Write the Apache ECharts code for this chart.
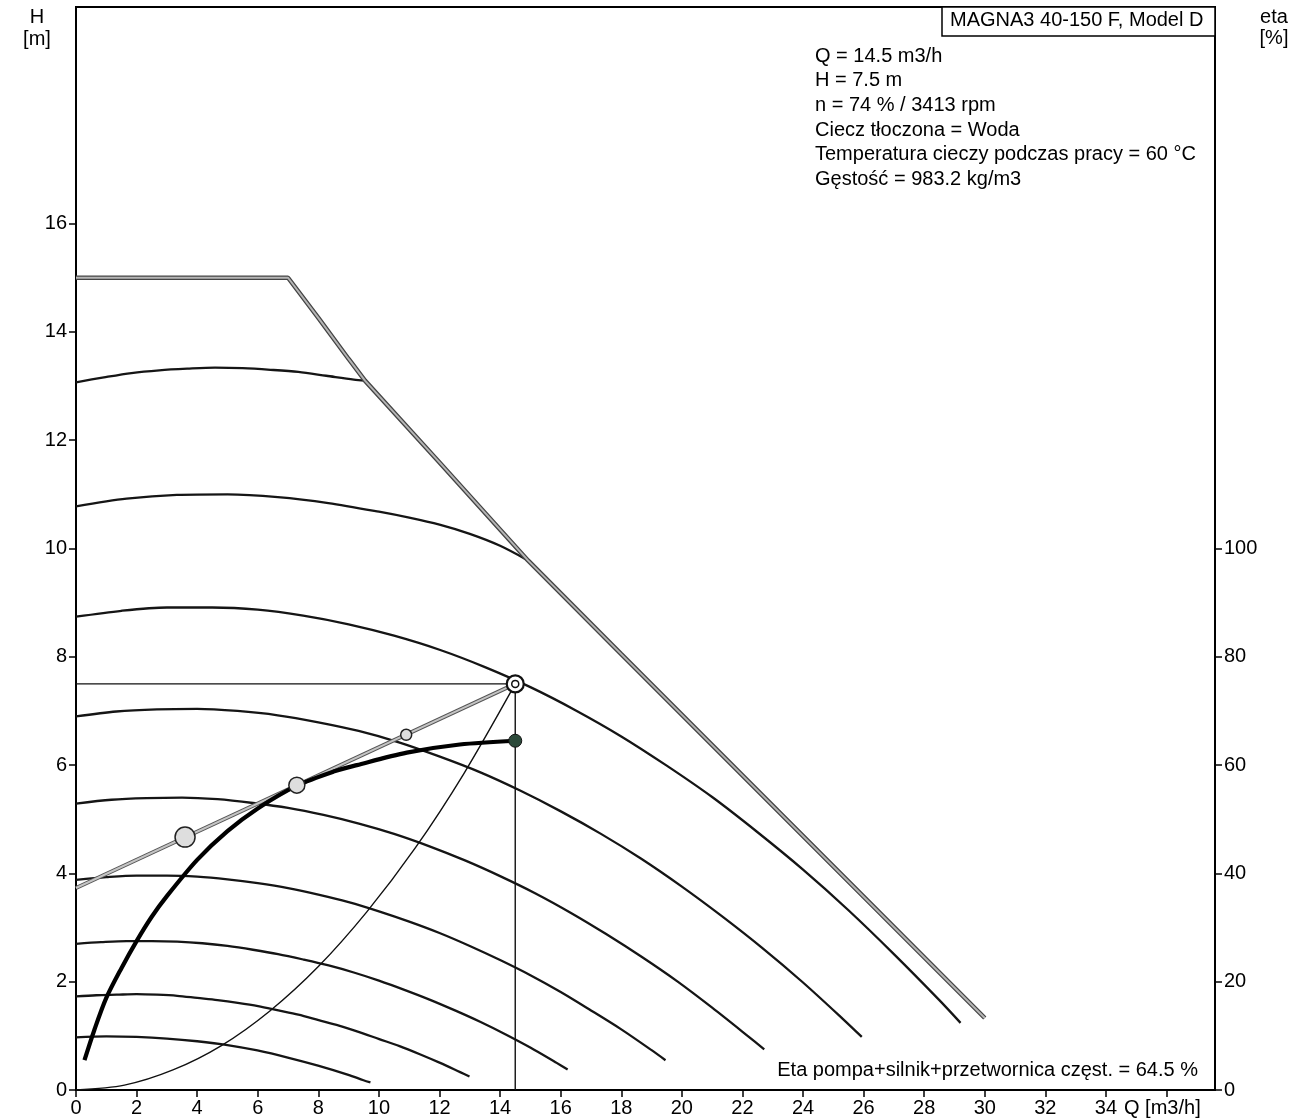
<!DOCTYPE html>
<html>
<head>
<meta charset="utf-8">
<script src="https://cdn.jsdelivr.net/npm/echarts@6/dist/echarts.min.js"></script>
<style>
html, body { margin: 0; padding: 0; background: #fff; }
#chart { width: 1292px; height: 1119px; }
</style>
</head>
<body>
<div id="chart"></div>
<script>
// axis ticks / labels
var qTicks = [0, 2, 4, 6, 8, 10, 12, 14, 16, 18, 20, 22, 24, 26, 28, 30, 32, 34, 36];
var qLabels = [0, 2, 4, 6, 8, 10, 12, 14, 16, 18, 20, 22, 24, 26, 28, 30, 32, 34];
var hLabels = [0, 2, 4, 6, 8, 10, 12, 14, 16];
var etaLabels = [0, 20, 40, 60, 80, 100];

// max curve [Q, H]
var maxCurve = [[0, 15.0], [7.0, 15.0], [8, 14.26], [9, 13.5], [9.54, 13.1], [12, 11.59], [14.92, 9.78],
    [18, 8.05], [22, 5.81], [26, 3.57], [30, 1.33]];

// speed curves [Q, H]
var speed1 = [[0, 13.07], [0.92, 13.16], [1.83, 13.24], [2.75, 13.29], [3.67, 13.32], [4.59, 13.34], [5.5, 13.33],
    [6.42, 13.3], [7.34, 13.26], [8.26, 13.19], [9.17, 13.12], [9.54, 13.1]];
var speed2 = [[0, 10.78], [1.67, 10.92], [3.33, 10.99], [5.0, 11.0], [6.66, 10.95], [8.33, 10.84], [10.0, 10.68],
    [11.0, 10.57], [12.0, 10.44], [13.0, 10.27], [14.0, 10.05], [14.92, 9.78]];
var speed3 = [[0, 8.74], [1.5, 8.85], [3, 8.91], [4.5, 8.91], [6, 8.87], [7.5, 8.76], [9, 8.60], [10.5, 8.39],
    [12, 8.13], [13.5, 7.81], [15, 7.44], [16.5, 7.01], [18, 6.53], [19.5, 5.99], [21, 5.41], [22.5, 4.76],
    [24, 4.07], [25.5, 3.32], [27, 2.51], [28.5, 1.66], [29.2, 1.24]];
var speed4 = [[0, 6.90], [1.33, 6.99], [2.67, 7.03], [4.0, 7.04], [5.33, 7.0], [6.66, 6.92], [8.0, 6.79], [9.33, 6.63],
    [10.66, 6.42], [11.99, 6.16], [13.33, 5.87], [14.66, 5.53], [15.99, 5.15], [17.33, 4.73], [18.66, 4.27],
    [19.99, 3.76], [21.32, 3.21], [22.66, 2.62], [23.99, 1.99], [25.32, 1.31], [25.94, 0.98]];
var speed5 = [[0, 5.29], [1.17, 5.36], [2.33, 5.39], [3.5, 5.4], [4.67, 5.37], [5.84, 5.3], [7.0, 5.21], [8.17, 5.08],
    [9.34, 4.92], [10.5, 4.73], [11.67, 4.5], [12.84, 4.24], [14.0, 3.95], [15.17, 3.63], [16.34, 3.27],
    [17.5, 2.88], [18.67, 2.46], [19.84, 2.01], [21.0, 1.52], [22.17, 1.0], [22.72, 0.75]];
var speed6 = [[0, 3.88], [1.0, 3.93], [2.0, 3.96], [3.0, 3.96], [4.0, 3.94], [5.0, 3.89], [6.0, 3.82], [7.0, 3.73],
    [8.0, 3.61], [9.0, 3.47], [10.0, 3.3], [11.0, 3.11], [12.0, 2.9], [13.0, 2.66], [14.0, 2.4], [15.0, 2.12],
    [16.0, 1.81], [17.0, 1.47], [18.0, 1.12], [18.99, 0.74], [19.46, 0.55]];
var speed7 = [[0, 2.70], [0.83, 2.73], [1.67, 2.75], [2.5, 2.75], [3.34, 2.74], [4.17, 2.71], [5.0, 2.66], [5.84, 2.59],
    [6.67, 2.51], [7.5, 2.41], [8.34, 2.3], [9.17, 2.17], [10.0, 2.02], [10.84, 1.85], [11.67, 1.67],
    [12.51, 1.47], [13.34, 1.26], [14.17, 1.03], [15.01, 0.78], [15.84, 0.51], [16.23, 0.38]];
var speed8 = [[0, 1.73], [0.67, 1.75], [1.34, 1.76], [2.0, 1.77], [2.67, 1.76], [3.34, 1.74], [4.0, 1.7], [4.67, 1.66],
    [5.34, 1.61], [6.01, 1.55], [6.68, 1.47], [7.34, 1.39], [8.01, 1.29], [8.68, 1.19], [9.35, 1.07],
    [10.01, 0.94], [10.68, 0.81], [11.35, 0.66], [12.02, 0.5], [12.68, 0.33], [12.99, 0.25]];
var speed9 = [[0, 0.97], [1.0, 0.99], [2.0, 0.98], [3.0, 0.95], [4.0, 0.90], [5.0, 0.83], [5.99, 0.73], [6.99, 0.6],
    [7.99, 0.45], [8.99, 0.28], [9.49, 0.18], [9.72, 0.14]];

// system curve [Q, H]
var systemCurve = [[0, 0], [1.6, 0.09], [3.2, 0.37], [4.8, 0.82], [6.4, 1.46], [8, 2.28], [9.6, 3.29], [11.2, 4.47], [12.8, 5.84], [14.5, 7.5]];

// efficiency curve [Q, eta %]
var etaCurve = [[0.28, 5.5], [0.6, 11], [1.0, 17], [1.5, 22.5], [2.0, 27.5], [2.5, 32], [3.0, 35.8], [4.0, 42.5],
    [5.0, 47.8], [6.0, 52], [7.29, 56.2], [8.5, 58.8], [9.27, 60.0], [10.92, 62.3], [12.67, 63.8], [14.5, 64.5]];

// gray line and its markers [Q, H]
var grayLine = [[0, 3.73], [14.5, 7.5]];
var grayMarkers = [[3.6, 4.67], [7.29, 5.63], [10.9, 6.56]];
var dutyPoint = [[14.5, 7.5]];
var etaPoint = [[14.5, 64.5]];

var FONT = '"Liberation Sans", Arial, sans-serif';
var chart = echarts.init(document.getElementById('chart'));

function line(data, color, width, z, axis) {
    return {
        type: 'line', data: data, yAxisIndex: axis || 0, showSymbol: false, symbol: 'none',
        smooth: 0.3, z: z, silent: true,
        lineStyle: { color: color, width: width }
    };
}

var speeds = [speed1, speed2, speed3, speed4, speed5, speed6, speed7, speed8, speed9];
var series = [];
speeds.forEach(function (d) { series.push(line(d, '#151515', 2.3, 3)); });

var m1 = line(maxCurve, '#444', 4.5, 4); m1.smooth = false;
var m2 = line(maxCurve, '#b5b5b5', 2, 5); m2.smooth = false;
series.push(m1, m2);

series.push(line(systemCurve, '#111', 1.4, 3));
series.push(line([[0, 7.5], [14.5, 7.5]], '#111', 1.4, 3));
series.push(line([[14.5, 0], [14.5, 7.5]], '#111', 1.4, 3));

var g1 = line(grayLine, '#555', 4, 6); g1.smooth = false;
var g2 = line(grayLine, '#c4c4c4', 2, 7); g2.smooth = false;
series.push(g1, g2);

series.push(line(etaCurve, '#000', 4.2, 8, 1));

var markerSizes = [20, 16, 11];
series.push({
    type: 'scatter', data: grayMarkers, z: 10, silent: true,
    symbolSize: function (v, p) { return markerSizes[p.dataIndex]; },
    itemStyle: { color: '#dedede', borderColor: '#222', borderWidth: 1.5, opacity: 1 }
});
series.push({
    type: 'scatter', data: dutyPoint, z: 10, silent: true, symbolSize: 17,
    itemStyle: { color: '#fff', borderColor: '#111', borderWidth: 2.2, opacity: 1 }
});
series.push({
    type: 'scatter', data: dutyPoint, z: 11, silent: true, symbolSize: 7,
    itemStyle: { color: '#fff', borderColor: '#111', borderWidth: 1.5, opacity: 1 }
});
series.push({
    type: 'scatter', data: etaPoint, yAxisIndex: 1, z: 10, silent: true, symbolSize: 13,
    itemStyle: { color: '#2c4a3a', borderColor: '#111', borderWidth: 1, opacity: 1 }
});

var labelStyle = { color: '#000', fontSize: 20, fontFamily: FONT };

var infoLines = ['Q = 14.5 m3/h', 'H = 7.5 m', 'n = 74 % / 3413 rpm', 'Ciecz tłoczona = Woda',
    'Temperatura cieczy podczas pracy = 60 °C', 'Gęstość = 983.2 kg/m3'];

function txt(s, x, y, align) {
    return {
        type: 'text', x: x, y: y, z: 100, silent: true,
        style: { text: s, font: '20px ' + FONT, fill: '#000', align: align || 'left', verticalAlign: 'middle' }
    };
}

var graphics = [
    { type: 'rect', z: 99, shape: { x: 942, y: 7, width: 273, height: 29 }, style: { fill: '#fff', stroke: '#000', lineWidth: 1.5 } },
    txt('MAGNA3 40-150 F, Model D', 950, 20),
    txt('H', 37, 17, 'center'),
    txt('[m]', 37, 39, 'center'),
    txt('eta', 1274, 17, 'center'),
    txt('[%]', 1274, 38, 'center'),
    txt('Q [m3/h]', 1124, 1108),
    txt('Eta pompa+silnik+przetwornica częst. = 64.5 %', 1198, 1070, 'right')
];
infoLines.forEach(function (s, i) { graphics.push(txt(s, 815, 56 + i * 24.7)); });

var option = {
    animation: false,
    backgroundColor: '#fff',
    grid: { left: 76, right: 77, top: 7, bottom: 29, show: true, borderColor: '#000', borderWidth: 2, backgroundColor: 'transparent' },
    xAxis: {
        type: 'value', min: 0, max: 37.6,
        axisLine: { show: true, onZero: false, lineStyle: { color: '#000', width: 2 } },
        axisTick: { show: true, length: 7, customValues: qTicks, lineStyle: { color: '#000', width: 1.5 } },
        axisLabel: Object.assign({ margin: 8, customValues: qLabels }, labelStyle),
        splitLine: { show: false }
    },
    yAxis: [{
        type: 'value', min: 0, max: 20,
        axisLine: { show: true, onZero: false, lineStyle: { color: '#000', width: 2 } },
        axisTick: { show: true, length: 7, customValues: hLabels, lineStyle: { color: '#000', width: 1.5 } },
        axisLabel: Object.assign({ margin: 9, customValues: hLabels }, labelStyle),
        splitLine: { show: false }
    }, {
        type: 'value', min: 0, max: 200, position: 'right',
        axisLine: { show: true, onZero: false, lineStyle: { color: '#000', width: 2 } },
        axisTick: { show: true, length: 7, customValues: etaLabels, lineStyle: { color: '#000', width: 1.5 } },
        axisLabel: Object.assign({ margin: 9, customValues: etaLabels }, labelStyle),
        splitLine: { show: false }
    }],
    series: series,
    graphic: graphics
};

chart.setOption(option);
</script>
</body>
</html>
